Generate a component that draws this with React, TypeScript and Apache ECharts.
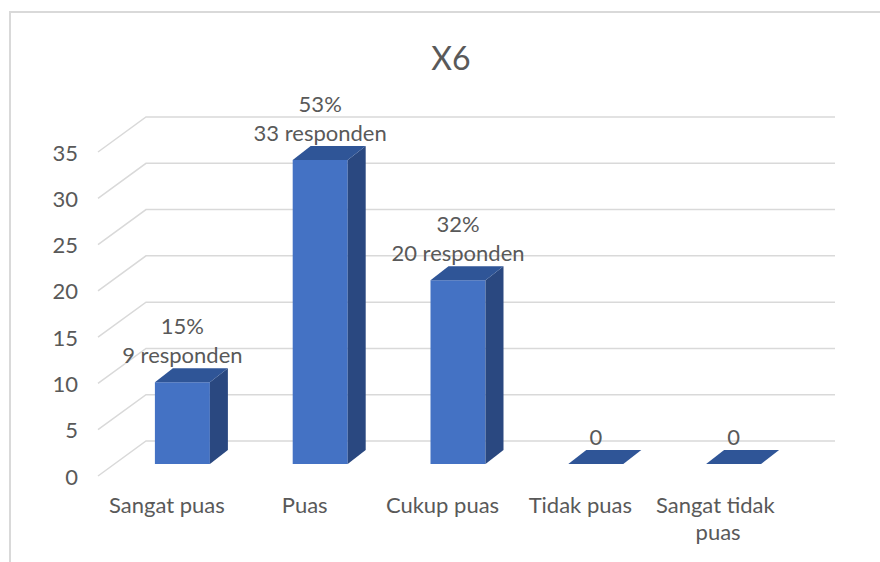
import React, { useEffect, useRef } from "react";
import * as echarts from "echarts";

const categories = ["Sangat puas", "Puas", "Cukup puas", "Tidak puas", "Sangat tidak puas"];
const respondents = [9, 33, 20, 0, 0];
const percentLabels = ["15%", "53%", "32%", "0%", "0%"];
const yTicks = [0, 5, 10, 15, 20, 25, 30, 35];
const titleText = "X6";

const FONT = "Lato, 'Noto Sans', sans-serif";
const TEXT_COLOR = "#595959";
const GRID_COLOR = "#d9d9d9";
const FRONT = "#4472C4";
const TOP = "#2F5597";
const SIDE = "#2A4880";

const DEPTH_X = 48;
const DEPTH_Y = -35;
const BAR_OFF_X = 15.5;
const BAR_OFF_Y = -12;
const BAR_DX = 18;
const BAR_DY = -14;
const BAR_HALF = 27.5;

export default function App() {
  const ref = useRef<HTMLDivElement>(null);
  useEffect(() => {
    if (!ref.current) return;
    const chart = echarts.init(ref.current, null, { renderer: "svg" });
    const option: any = {
      animation: false,
      backgroundColor: "#ffffff",
      grid: { left: 98, right: 93, top: 152, bottom: 86, containLabel: false },
      xAxis: {
        type: "category",
        data: categories,
        axisLine: { show: false },
        axisTick: { show: false },
        splitLine: { show: false },
        axisLabel: {
          interval: 0,
          margin: 15,
          color: TEXT_COLOR,
          fontFamily: FONT,
          fontSize: 22,
          lineHeight: 27,
          width: 130,
          overflow: "break",
        },
      },
      yAxis: {
        type: "value",
        min: 0,
        max: 35,
        interval: 5,
        axisLine: { show: false },
        axisTick: { show: false },
        splitLine: { show: false },
        axisLabel: { margin: 20, color: TEXT_COLOR, fontFamily: FONT, fontSize: 22 },
      },
      graphic: [
        {
          type: "rect",
          silent: true,
          shape: { x: 10, y: 12, width: 920, height: 620 },
          style: { fill: "none", stroke: GRID_COLOR, lineWidth: 2 },
        },
        {
          type: "text",
          silent: true,
          style: {
            text: titleText,
            x: 451,
            y: 57,
            align: "center",
            verticalAlign: "middle",
            fill: TEXT_COLOR,
            fontFamily: FONT,
            fontSize: 32,
          },
        },
      ],
      series: [
        {
          type: "custom",
          silent: true,
          z: 1,
          data: yTicks.map((t) => [0, t]),
          renderItem: (params: any, api: any) => {
            const cs = params.coordSys;
            const y = api.coord([0, api.value(1)])[1];
            const x0 = cs.x;
            const x1 = cs.x + cs.width;
            return {
              type: "polyline",
              shape: {
                points: [
                  [x0, y],
                  [x0 + DEPTH_X, y + DEPTH_Y],
                  [x1 + DEPTH_X, y + DEPTH_Y],
                ],
              },
              style: { stroke: GRID_COLOR, lineWidth: 1.5, fill: "none" },
            };
          },
        },
        {
          type: "custom",
          silent: true,
          z: 2,
          data: respondents.map((v, i) => [i, v]),
          renderItem: (params: any, api: any) => {
            const i = api.value(0);
            const v = api.value(1);
            const base = api.coord([i, 0]);
            const top = api.coord([i, v]);
            const cx = base[0] + BAR_OFF_X;
            const yb = base[1] + BAR_OFF_Y;
            const yt = top[1] + BAR_OFF_Y + 1.5;
            const l = cx - BAR_HALF;
            const r = cx + BAR_HALF;
            const children: any[] = [];
            if (v > 0) {
              children.push({
                type: "rect",
                shape: { x: l, y: yt, width: r - l, height: yb - yt },
                style: { fill: FRONT },
              });
              children.push({
                type: "polygon",
                shape: {
                  points: [
                    [r, yt],
                    [r + BAR_DX, yt + BAR_DY],
                    [r + BAR_DX, yb + BAR_DY],
                    [r, yb],
                  ],
                },
                style: { fill: SIDE },
              });
            }
            const ytop = v > 0 ? yt : yb;
            children.push({
              type: "polygon",
              shape: {
                points: [
                  [l, ytop],
                  [l + BAR_DX, ytop + BAR_DY],
                  [r + BAR_DX, ytop + BAR_DY],
                  [r, ytop],
                ],
              },
              style: { fill: TOP },
            });
            const label = v > 0 ? `${percentLabels[i]}\n${v} responden` : `${v}`;
            children.push({
              type: "text",
              style: {
                text: label,
                x: cx,
                y: ytop + BAR_DY + 1,
                align: "center",
                verticalAlign: "bottom",
                fill: TEXT_COLOR,
                fontFamily: FONT,
                fontSize: 22,
                lineHeight: 29,
              },
            });
            return { type: "group", children };
          },
        },
      ],
    };
    chart.setOption(option);
    return () => chart.dispose();
  }, []);
  return (
    <div
      ref={ref}
      style={{ position: "fixed", left: 0, top: 0, width: 880, height: 562 }}
    />
  );
}
